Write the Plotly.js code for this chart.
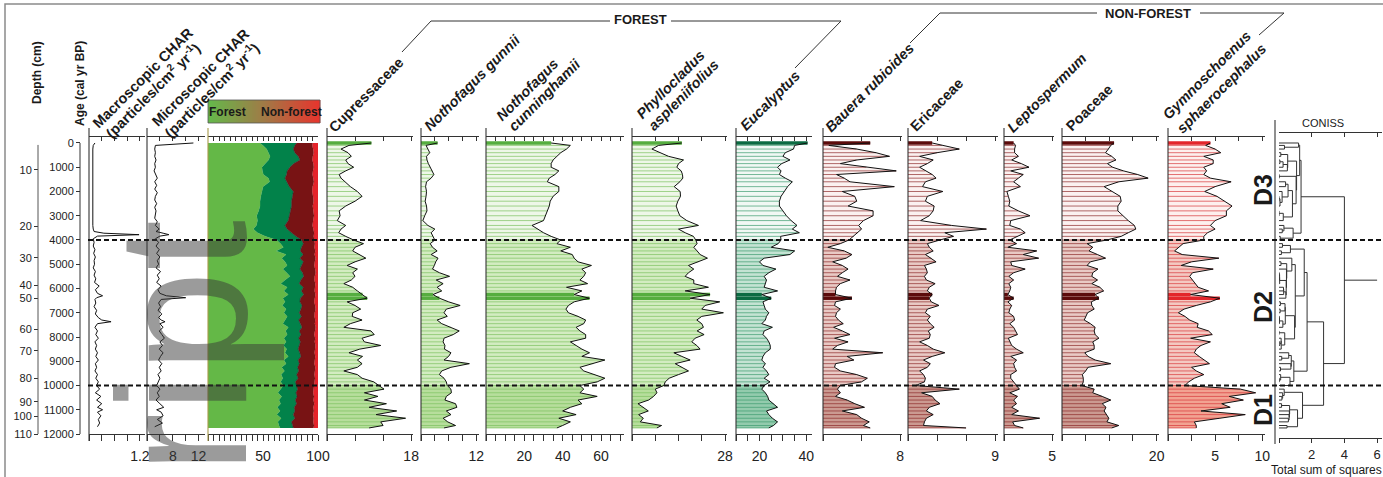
<!DOCTYPE html>
<html><head><meta charset="utf-8">
<script src="https://cdn.plot.ly/plotly-3.0.1.min.js"></script>
<style>html,body{margin:0;padding:0;background:#fff;}#chart{width:1383px;height:477px;}</style>
</head><body><div id="chart"></div>
<script>
// ---------------- DATA ----------------
const ages = [0,100,250,400,550,700,850,1000,1150,1300,1450,1600,1800,2000,2200,2400,2600,2800,3000,3200,3400,3550,3700,3850,4000,
4150,4300,4450,4600,4750,4900,5050,5200,5350,5500,5650,5800,5950,6100,6250,6400,6550,6700,6850,7000,7150,7300,7450,7600,7750,7900,8050,8200,8350,8500,8650,8800,8950,9100,9250,9400,9550,9700,9850,10000,
10150,10300,10450,10600,10750,10900,11050,11200,11350,11500,11650,11750];
const zoneBounds = [4000, 10000];
const highlightAges = [0, 6250, 6400];

const cupressaceae = [9.5,4.7,3,4.5,5.2,4,4.5,5.7,4,2.6,3,3.8,5,6.5,7.5,6,4,2.6,2.8,2.2,4,3,2.5,4,5.7,
7.8,6,5.5,7,8.3,6,4.3,6.5,5.5,6,5.2,3.6,5.5,6.5,7.6,8.6,4.3,6,7.2,5.5,5.4,7.5,5,3.6,9.4,10.1,7.5,8,11.5,7,4.7,7.6,6.5,7.5,6.5,3.6,6.5,7.5,10,11,
12.2,8,10.9,8,12.7,9,14.9,10.5,16.8,11.5,12,9];
const nothofagusGunnii = [3.6,1.1,1.5,1.9,1.2,1.3,1.6,2,2.5,2.8,2.2,1.2,1,1.2,1.1,0.9,1.2,1.3,0.8,0.4,1.5,3,2.2,2.6,3,
2,2.5,3.5,2.2,3.7,3.2,2.9,2.5,4,6.2,3.3,4.8,3.5,4.5,2.6,4,6,8.5,5.5,5,5.7,3.5,4.5,6.5,8.3,7,5,4.8,5.2,5.1,6.5,6,5,10.5,6.5,4.5,4,5,5.5,5.7,
6.5,6.6,5.5,5.2,7.5,7.8,5.5,6.5,4.8,5.8,7.5,5];
const nothofagusCunninghamii = [34,44,42,39,37,35,34,34,38,36,33,32,38,38,35,33.5,33,32,31,30,24,27,30,34,39,
37,44,39,45,46,48,55,50,52,51,49,53,42,50,46,54,46,43,41.7,43,48,52,51,47,49,52,52,44,47,50,54,50,62,56,49,51,57,62,58,49,
51,49,58,48,50,44,40,47,38,44,40,37];
const phyllocladus = [15,8,6,8.5,11,15.5,14,13.5,14.8,15.2,15.3,14.4,12.7,14.5,14.6,13.8,13.3,13.8,14.4,16.5,20,14,16,18.5,19.2,
19.6,18.6,19.6,20.5,22.7,20,17,18.6,17,16,18.6,18.6,23,16,23.5,17.5,26.4,22,21,27.5,21,19.5,21,21.5,19.6,21.7,19,18,19.5,20.5,12.6,15,17.5,13,15,17,14,11.2,10,9.6,
7,7.5,6.5,5,1.8,3.5,4.9,2,3.4,2.5,8.9,7.5];
const eucalyptus = [40.5,35,34.5,31,30,33,29.5,27.7,29.2,28.5,31,34,32,30.5,29.2,28.5,28.5,30,31.5,33.5,36,34,37,29,29.2,
28,25,35,33,22,20,21.5,27,24,22,23,22.5,22,27.7,21,25,21.5,22,22.5,24,23,22.5,21,25.5,22,21.5,23,24,24.6,24.6,22.5,21.5,21,22.5,21.5,23,24,22,24.5,22,
21,22.5,23.5,24,26,27.7,23,24,25.5,27.7,26,24];
const baueraRubioides = [4.9,0.6,3.5,5.5,6.9,3.5,1.8,4.5,7.6,1.4,2.2,2.8,7.4,2,3.3,3.5,2.6,5.2,5.2,4.2,3.7,4,3.6,3.2,2.7,
1.8,0.5,2.2,3,2.4,1,2,2.6,2,1.5,2.8,1.8,1.4,1.3,1.3,3,1.3,1.2,1.8,1.4,1.3,1.6,2.1,1.1,2,2.8,1.2,2.6,1.5,1,6.2,2.5,3.2,1.3,1.2,1.8,3.5,4.6,4,1.8,
1.5,1.8,1.3,2.5,3.3,4.3,2,3.5,4,4.8,4.2,4.9];
const ericaceae = [2.5,3.5,5.3,3,1.2,2.6,2,1.2,1.8,2.5,2.9,1.8,1.5,3.6,2,1.8,2.7,2.6,2.2,1.3,4.5,8.1,3.8,4.7,3.3,
2,2.2,2.6,1.8,2.4,2.9,1.7,1.9,2,1.7,1.9,2.8,2.2,2,2.5,2.2,2.4,3.2,2,1.8,2.3,2,2.3,2.7,2.1,2.3,2.2,1.2,2,2.6,3.8,2.5,1.6,2.3,2,1.2,1.6,1.8,1.7,0.8,
5.3,1.4,2.5,2.8,3.3,2.2,1.9,2.6,1.9,1.7,1.6,6];
const leptospermum = [1,1.2,1.1,1.1,1.5,0.8,1.8,2.6,0.7,2,1.5,1,1.7,0.3,0.45,0.6,0.5,1.5,2.7,0.7,0.6,1.7,2.2,1.4,0.6,
1.3,0.4,3.4,2,3.6,0.7,0.8,2.2,1,0.5,1,0.5,0.7,0.6,0.4,1,0.4,0.8,0.6,0.5,1,1.1,0.6,1,1.2,1.4,0.45,0.6,0.8,1.3,2,0.7,1.3,1,1.1,1.3,0.7,0.7,1,1.3,
1.6,0.6,1.4,1,1.3,0.8,1.5,0.8,3.7,0.9,1.1,2];
const poaceae = [11,10.3,9.8,9.2,10.5,11.4,9.6,10.7,13,16,18.2,12,8.9,10.5,12.3,12.5,11.8,11.8,12.8,14,15.3,15.6,14,12.5,9.5,
5.3,6.5,5.7,7.5,9.2,6,5.3,7.6,6.5,6.3,7.5,6.3,8,8.8,7,7.8,6.2,6.3,6.8,5.4,5,4.7,6,7,6.8,7,7.8,6.5,6.8,6.8,4.8,5.5,7,10.3,5.5,5,4.3,4.5,4.5,4.2,
6.8,6.5,8.5,10.3,8.5,9.3,8.9,9.5,9.9,9.5,12,10.5];
const gymnoschoenus = [4.5,4,5,5.6,3.8,4.8,4.8,3.8,4.1,3.8,4.5,6.7,5,3.9,5.2,6,6.8,6.2,6.2,5,4.5,5,4.2,3.8,3.8,
1.6,1.1,0.7,1.5,5.4,2.5,1.4,4.8,2.6,2.3,2.6,2.9,3.2,4.3,2.4,5.5,4.5,3,1.7,1.1,1.8,2.3,3.2,3.1,4.3,4.7,2.4,4.5,3.5,3,2.8,3.3,3.8,4.4,2.5,3,3.8,2.8,2.2,1.8,
7.7,9.3,6.5,8,5.7,6.6,3.5,8.2,5.5,2.8,3,3];

// Forest / non-forest summary (cumulative %, left to right)
const forestLightTop = [47,50,53.3,55,56.4,55,52,49,49.5,50.3,55,56,50,48.8,48,47.3,47.3,46,44.2,45,44,41.2,45,52,62.4,
66,68.5,62,71,67,70,72,68,71.5,74.5,70,66,72,69,73,68,70,67.5,71,69,72,70,68,73,70.5,72,69,71,68.5,71.5,70,73,69,71,67,69.5,66.5,68,66,68.5,
66,63.5,67,64.5,66,63,65.5,62.5,66.5,63.5,64.5,65.5];
const forestDarkTop = [80.6,79,77.6,79,82,83.6,78,74.5,72,71.5,70,72,74,77.6,76.5,76,76,75,74,73,70,72,76,80,85.2,
86.7,85,84,86.5,83.6,86.7,85,83.6,86,87,84.5,83,86.7,85,87,84,83.6,85.5,84.5,83,85,82.5,84,85.5,83,84.5,82.5,84,83,82,83.5,84.5,82,83,81.5,82.5,80.6,82,79.5,80.5,
81.5,80,81,79.5,80.5,78.5,79,77.5,79,76,77,77.6];
const nonForestDarkTop = [95.2,94.8,95.6,96.1,95.3,94.9,95.8,96.2,95.4,95,95.7,96.3,95.1,94.7,95.5,96,95.2,95.9,96.4,95.6,95,95.8,96.5,96.1,96.8,
97.2,96.8,97.5,96.9,97.8,97.1,96.6,97.4,97.9,97,96.7,97.6,97.3,96.9,97.7,97.2,96.5,97.4,97.8,97,96.8,97.5,97.1,97.9,97.3,96.6,97.4,97,97.7,97.2,96.9,97.5,97.1,96.7,97.6,97.2,96.8,97.3,96.9,96.6,
96.2,95.6,96.4,95.9,96.6,95.8,96.3,95.5,96.1,95.7,96.4,96];
const stackTotal = 100;

// Charcoal (contiguous, finer resolution)
const charAges = [0,50,100,250,400,550,700,850,1000,1150,1300,1450,1600,1750,1900,2050,2200,2350,2500,2650,
2800,2950,3100,3250,3400,3550,3650,3720,3780,3840,3950,4100,4250,4400,4550,4700,4850,5000,5150,5300,
5450,5600,5750,5900,6050,6200,6300,6380,6450,6600,6750,6900,7050,7200,7300,7370,7450,7600,7750,7900,
8050,8200,8350,8500,8650,8800,8950,9100,9250,9400,9550,9700,9850,10000,10150,10300,10450,10600,10750,10900,
11000,11100,11250,11400,11550,11700];
const macroCHAR = [0.14,0.12,0.10,0.09,0.09,0.08,0.08,0.09,0.08,0.08,0.08,0.08,0.09,0.08,0.08,0.08,0.09,0.08,0.08,0.08,
0.08,0.09,0.09,0.08,0.09,0.10,0.12,0.35,1.18,0.20,0.10,0.12,0.10,0.14,0.11,0.15,0.12,0.13,0.10,0.15,
0.12,0.16,0.13,0.24,0.15,0.20,0.32,0.18,0.14,0.16,0.12,0.18,0.15,0.22,0.30,0.52,0.20,0.14,0.20,0.16,
0.22,0.14,0.18,0.15,0.20,0.16,0.22,0.15,0.18,0.14,0.20,0.16,0.22,0.18,0.25,0.15,0.28,0.18,0.30,0.20,
0.32,0.20,0.28,0.22,0.25,0.20];
const microCHAR = [11.2,8.0,5.3,5.2,5.3,5.2,5.4,5.2,5.3,5.1,5.4,5.6,5.2,5.5,5.2,5.6,5.3,5.2,5.5,5.2,
5.4,5.3,5.2,5.6,5.3,5.9,5.4,6.5,7.4,6.0,5.3,5.8,5.4,5.9,5.5,6.0,5.6,5.8,5.4,6.1,
5.6,5.9,5.5,6.2,5.7,6.0,7.0,10.0,6.2,5.8,6.1,5.7,6.3,5.8,6.2,6.8,6.0,6.5,5.9,6.3,
6.7,6.0,6.4,5.9,6.5,6.1,5.8,6.3,5.9,6.2,5.7,6.0,5.8,5.5,6.0,5.6,5.9,5.4,6.0,6.6,
5.5,6.2,6.5,5.6,6.4,5.2];

// Axis labels
const ageTicks = [0,1000,2000,3000,4000,5000,6000,7000,8000,9000,10000,11000,12000];
const depthLabels = [10,20,30,40,50,60,70,80,90,100,110];
const depthAges = [1113,3423,4742,5856,6392,7683,8577,9691,10668,11258,12000];
const conissRootHeight = 4.0;   // height of final CONISS join
const conissStubEnd = 6;

// ---------------- LAYOUT HELPERS ----------------
const W = 1383, H = 477;
const px = x => x / W, py = y => 1 - y / H;
const FONT = '"Liberation Sans", Arial, Helvetica, sans-serif';
const yRange = [12000, -247];
const yDomain = [py(434), py(137)];
const traces = [], shapes = [], annotations = [];
const layout = {
  width: W, height: H, margin: {l:0, r:0, t:0, b:0},
  paper_bgcolor: '#fff', plot_bgcolor: 'rgba(0,0,0,0)', showlegend: false,
  font: {family: FONT, color: '#222'},
};
const axId = n => n === 1 ? 'x' : 'x' + n;
const axKey = n => n === 1 ? 'xaxis' : 'xaxis' + n;

function ticksEvery(a, b, s) { const t = []; for (let v = a; v <= b + 1e-9; v += s) t.push(+v.toFixed(3)); return t; }
function labelled(tv, show) { return tv.map(v => show.includes(v) ? String(v) : ''); }

const panels = [
  {x0:89,  x1:145, range:[0,1.32], tv:[0,0.3,0.6,0.9,1.2], show:[1.2]},
  {x0:147, x1:205, range:[4,13],   tv:[4,6,8,10,12], show:[8,12]},
  {x0:208, x1:318, range:[0,100],  tv:ticksEvery(0,100,5), show:[50,100]},
  {x0:327, x1:413, range:[0,18.4], tv:[0,6,12,18], show:[18]},
  {x0:421, x1:479, range:[0,12.6], tv:[0,3,6,9,12], show:[12]},
  {x0:486, x1:624, range:[0,72],   tv:ticksEvery(0,70,5), show:[20,40,60]},
  {x0:632, x1:727, range:[0,28.6], tv:[0,7,14,21,28], show:[28]},
  {x0:736, x1:812, range:[10,42.4],tv:ticksEvery(10,40,5), show:[20,40]},
  {x0:823, x1:902, range:[0,8.2],  tv:[0,4,8], show:[8]},
  {x0:908, x1:998, range:[0,9.3],  tv:[0,3,6,9], show:[9]},
  {x0:1004,x1:1054,range:[0,5.2],  tv:[0,5], show:[5]},
  {x0:1062,x1:1159,range:[0,20.5], tv:[0,5,10,15,20], show:[20]},
  {x0:1168,x1:1265,range:[0,10.3], tv:[0,2.5,5,7.5,10], show:[5,10]},
  {x0:1279,x1:1382,range:[0,6.3],  tv:[0,2,4,6], show:[2,4,6], coniss:true},
];
const NP = panels.length;

layout.yaxis = {domain: yDomain, range: yRange, anchor: 'free', position: px(80), side: 'left',
  ticks: 'outside', ticklen: 4, tickcolor: '#333', tickvals: ageTicks, ticktext: ageTicks.map(String),
  tickfont: {size: 11, color: '#222'}, showgrid: false, zeroline: false, showline: false, fixedrange: true};
layout.yaxis2 = {overlaying: 'y', range: yRange, anchor: 'free', position: px(38), side: 'left',
  ticks: 'outside', ticklen: 4, tickcolor: '#333', tickvals: depthAges, ticktext: depthLabels.map(String),
  tickfont: {size: 11, color: '#222'}, showgrid: false, zeroline: false, showline: false, fixedrange: true};
traces.push({x:[0], y:[0], xaxis:'x', yaxis:'y2', mode:'markers', marker:{opacity:0}, hoverinfo:'skip'});

function lineS(x0, y0, x1, y1, color, width, dash) {
  return {type:'line', xref:'paper', yref:'paper', x0:px(x0), y0:py(y0), x1:px(x1), y1:py(y1),
    line:{color: color || '#333', width: width || 1, dash: dash || 'solid'}};
}
function ann(text, x, y, size, opts) {
  return Object.assign({text, x: px(x), y: py(y), xref:'paper', yref:'paper', showarrow:false,
    xanchor:'center', yanchor:'middle', font:{family: FONT, size: size, color:'#1a1a1a'}}, opts || {});
}

panels.forEach((p, i) => {
  const n = i + 1, nt = i + 1 + NP;
  const base = {range: p.range, showgrid: false, zeroline: false, fixedrange: true,
    showline: true, linecolor: '#333', linewidth: 1, tickcolor: '#333', tickwidth: 1, tickvals: p.tv};
  layout[axKey(n)] = Object.assign({}, base, {domain: [px(p.x0), px(p.x1)],
    anchor: p.coniss ? 'free' : 'y', position: p.coniss ? py(438) : undefined,
    ticks: 'outside', ticklen: p.coniss ? 4 : 6, ticktext: labelled(p.tv, p.show),
    tickfont: {size: p.coniss ? 13 : 14, color: '#222'}, ticklabelstandoff: p.coniss ? 0 : 3});
  layout[axKey(nt)] = Object.assign({}, base, {overlaying: axId(n), side: 'top',
    anchor: p.coniss ? 'free' : 'y', position: p.coniss ? py(132) : undefined,
    ticks: 'inside', ticklen: 4, showticklabels: false});
  traces.push({x:[p.range[0]], y:[0], xaxis: axId(nt), yaxis:'y', mode:'markers', marker:{opacity:0}, hoverinfo:'skip'});
  if (!p.coniss) shapes.push(lineS(p.x0, 128, p.x0, 441, i === 2 ? '#a89a4a' : '#333', 1.1));
});

// ---------------- CHARCOAL ----------------
traces.push({x: macroCHAR, y: charAges, xaxis:'x', yaxis:'y', mode:'lines', line:{color:'#111', width:1}, hoverinfo:'skip'});
traces.push({x: microCHAR, y: charAges, xaxis:'x2', yaxis:'y', mode:'lines', line:{color:'#111', width:1}, hoverinfo:'skip'});

// ---------------- FOREST / NON-FOREST STACK ----------------
const stackCols = ['#64b847', '#02824a', '#781314', '#e5232a'];
const stackSeries = [forestLightTop, forestDarkTop, nonForestDarkTop, ages.map(() => stackTotal)];
stackSeries.forEach((s, k) => {
  traces.push({x: s, y: ages, xaxis:'x3', yaxis:'y', mode:'lines',
    line:{color: k === 1 ? '#2a2a2a' : stackCols[k], width: k === 1 ? 0.6 : 0.3},
    fill: k === 0 ? 'tozerox' : 'tonextx', fillcolor: stackCols[k], hoverinfo:'skip'});
});

// ---------------- POLLEN PANELS ----------------
const GREEN = {fills:['#eef7e8','#d3ecc1','#b7de9c'], line:'#7dc160', dark:'#55ad3f'};
const TEAL  = {fills:['#f1f8f4','#c4e3d3','#93cbad'], line:'#3e9c70', dark:'#0b6b42'};
const BROWN = {fills:['#fbf1f0','#e9cac5','#cb9a91'], line:'#8e2b2b', dark:'#5c0b0b'};
const SALMON= {fills:['#fdf0ee','#f4c9c2','#f2a392'], line:'#d8383b', dark:'#e3262b'};

function pollenPanel(vals, n, style) {
  const xa = axId(n), base = panels[n - 1].range[0];
  const zones = [[-Infinity, zoneBounds[0]], [zoneBounds[0], zoneBounds[1]], [zoneBounds[1], Infinity]];
  zones.forEach((z, zi) => {
    const idx = ages.map((a, i) => i).filter(i => ages[i] >= z[0] && ages[i] <= z[1]);
    const xs = [base], ys = [ages[idx[0]]];
    idx.forEach(i => { xs.push(vals[i]); ys.push(ages[i]); });
    xs.push(base); ys.push(ages[idx[idx.length - 1]]);
    traces.push({x: xs, y: ys, xaxis: xa, yaxis:'y', mode:'lines', line:{width:0}, fill:'toself',
      fillcolor: style.fills[zi], hoverinfo:'skip'});
  });
  const lx = [], ly = [];
  ages.forEach((a, i) => { lx.push(base, vals[i], null); ly.push(a, a, null); });
  traces.push({x: lx, y: ly, xaxis: xa, yaxis:'y', mode:'lines', line:{color: style.line, width:0.7}, hoverinfo:'skip'});
  const hx = [], hy = [];
  highlightAges.forEach(a => { const i = ages.indexOf(a); hx.push(base, vals[i], null); hy.push(a, a, null); });
  traces.push({x: hx, y: hy, xaxis: xa, yaxis:'y', mode:'lines', line:{color: style.dark, width:3.5}, hoverinfo:'skip'});
  traces.push({x: vals, y: ages, xaxis: xa, yaxis:'y', mode:'lines', line:{color:'#111', width:1}, hoverinfo:'skip'});
}
pollenPanel(cupressaceae, 4, GREEN);
pollenPanel(nothofagusGunnii, 5, GREEN);
pollenPanel(nothofagusCunninghamii, 6, GREEN);
pollenPanel(phyllocladus, 7, GREEN);
pollenPanel(eucalyptus, 8, TEAL);
pollenPanel(baueraRubioides, 9, BROWN);
pollenPanel(ericaceae, 10, BROWN);
pollenPanel(leptospermum, 11, BROWN);
pollenPanel(poaceae, 12, BROWN);
pollenPanel(gymnoschoenus, 13, SALMON);

// ---------------- CONISS (constrained incremental sum of squares) ----------------
(function () {
  const taxa = [cupressaceae, nothofagusGunnii, nothofagusCunninghamii, phyllocladus, eucalyptus,
                baueraRubioides, ericaceae, leptospermum, poaceae, gymnoschoenus];
  let cl = ages.map((a, i) => ({n:1, c: taxa.map(t => Math.sqrt(t[i] / 100)), y: a, h: 0}));
  const links = []; let Wtot = 0;
  while (cl.length > 1) {
    let best = 0, bd = Infinity;
    for (let k = 0; k < cl.length - 1; k++) {
      const A = cl[k], B = cl[k + 1]; let d = 0;
      for (let j = 0; j < A.c.length; j++) { const q = A.c[j] - B.c[j]; d += q * q; }
      d *= A.n * B.n / (A.n + B.n);
      if (d < bd) { bd = d; best = k; }
    }
    const A = cl[best], B = cl[best + 1];
    Wtot += bd;
    links.push({y1: A.y, h1: A.h, y2: B.y, h2: B.h, h: Wtot});
    const nn = A.n + B.n;
    cl.splice(best, 2, {n: nn, c: A.c.map((v, j) => (v * A.n + B.c[j] * B.n) / nn), y: (A.y + B.y) / 2, h: Wtot});
  }
  const k = conissRootHeight / Wtot;
  const xs = [], ys = [];
  links.forEach(L => { xs.push(L.h1 * k, L.h * k, L.h * k, L.h2 * k, null); ys.push(L.y1, L.y1, L.y2, L.y2, null); });
  xs.push(Wtot * k, conissStubEnd); ys.push(cl[0].y, cl[0].y);
  traces.push({x: xs, y: ys, xaxis: axId(14), yaxis:'y', mode:'lines', line:{color:'#333', width:1}, hoverinfo:'skip'});
})();

// ---------------- SHAPES ----------------
shapes.push({type:'rect', xref:'paper', yref:'paper', x0:px(5), y0:py(4), x1:px(1400), y1:py(500),
  line:{color:'#8a8a8a', width:1.5}, fillcolor:'rgba(0,0,0,0)', layer:'below'});
shapes.push({type:'line', xref:'paper', yref:'y', x0:px(80), x1:px(80), y0:0, y1:12000, line:{color:'#333', width:1}});
shapes.push({type:'line', xref:'paper', yref:'y', x0:px(38), x1:px(38), y0:80, y1:12000, line:{color:'#555', width:1}});
shapes.push(lineS(1275, 120, 1275, 444, '#333', 1.1));
zoneBounds.forEach(b => shapes.push({type:'line', xref:'paper', yref:'y', x0:px(88), x1:px(1383), y0:b, y1:b,
  line:{color:'#111', width:2, dash:'5px,3px'}}));
// gradient legend box
(function () {
  const x0 = 208, x1 = 320, N = 56, c0 = [100,185,75], c1 = [160,122,70], c2 = [232,52,45];
  for (let i = 0; i < N; i++) {
    const t = (i + 0.5) / N;
    const c = t < 0.5 ? c0.map((v, j) => v + (c1[j] - v) * t * 2) : c1.map((v, j) => v + (c2[j] - v) * (t - 0.5) * 2);
    const a = x0 + (x1 - x0) * i / N, b = x0 + (x1 - x0) * (i + 1) / N + 0.3;
    shapes.push({type:'rect', xref:'paper', yref:'paper', x0:px(a), x1:px(b), y0:py(123), y1:py(100),
      line:{width:0}, fillcolor:`rgb(${c.map(Math.round).join(',')})`});
  }
  shapes.push({type:'rect', xref:'paper', yref:'paper', x0:px(x0), x1:px(x1), y0:py(123), y1:py(100),
    line:{color:'#555', width:0.8}, fillcolor:'rgba(0,0,0,0)'});
})();
// FOREST / NON-FOREST brackets
[[402,52,431,21],[431,21,610,21],[671,21,841,21],[841,21,795,68],
 [910,43,940,13],[940,13,1097,13],[1200,13,1284,13],[1284,13,1259,35]].forEach(s =>
  shapes.push(lineS(s[0], s[1], s[2], s[3], '#333', 1)));

// ---------------- ANNOTATIONS ----------------
const B = t => '<b>' + t + '</b>', BI = t => '<b><i>' + t + '</i></b>';
const unit = '(particles/cm<sup>2</sup> yr<sup>-1</sup>)';
const rot = {textangle: -45};
[
  [B('Macroscopic CHAR'), 142.5, 77.5], [B(unit), 152.5, 90],
  [B('Microscopic CHAR'), 200, 77.5], [B(unit), 211, 90],
  [B('Cupressaceae'), 366, 95], [BI('Nothofagus gunnii'), 472, 83],
  [BI('Nothofagus'), 527, 90], [BI('cunninghamii'), 544.5, 95],
  [BI('Phyllocladus'), 670, 85], [BI('aspleniifolius'), 683.5, 95],
  [BI('Eucalyptus'), 769.5, 100.5], [BI('Bauera rubioides'), 869, 87.5],
  [B('Ericaceae'), 936.5, 105], [BI('Leptospermum'), 1046.5, 92.5],
  [B('Poaceae'), 1089, 108], [BI('Gymnoschoenus'), 1207, 75], [BI('sphaerocephalus'), 1221, 89]
].forEach(a => annotations.push(ann(a[0], a[1], a[2], 14.5, rot)));
annotations.push(ann(B('Depth (cm)'), 37, 73, 12, {textangle: -90}));
annotations.push(ann(B('Age (cal yr BP)'), 80, 84, 12, {textangle: -90}));
annotations.push(ann(B('Forest'), 227.5, 111.5, 12));
annotations.push(ann(B('Non-forest'), 291.5, 111.5, 12));
annotations.push(ann(B('FOREST'), 640, 20, 13));
annotations.push(ann(B('NON-FOREST'), 1148, 13, 13));
annotations.push(ann('CONISS', 1323, 123, 11));
annotations.push(ann('Total sum of squares', 1326, 470, 12));
annotations.push(ann(B('D3'), 1263, 190, 25, {textangle: -90}));
annotations.push(ann(B('D2'), 1263, 307, 25, {textangle: -90}));
annotations.push(ann(B('D1'), 1263, 410, 25, {textangle: -90}));
annotations.push(ann('ript', 182, 347, 183, {textangle: -90, font:{family: FONT, size: 183, color:'rgba(55,55,55,0.5)'}}));

layout.shapes = shapes;
layout.annotations = annotations;
Plotly.newPlot('chart', traces, layout, {displayModeBar: false, staticPlot: true});
</script>
</body></html>
